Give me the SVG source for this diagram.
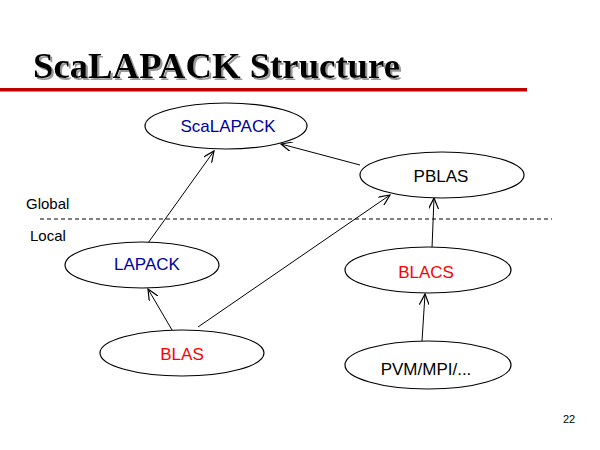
<svg xmlns="http://www.w3.org/2000/svg" width="600" height="450" viewBox="0 0 600 450">
<style>
.node ellipse{fill:#fff;stroke:#000;stroke-width:1.2}
.lbl{font-family:"Liberation Sans",Arial,sans-serif;font-size:17px;text-anchor:middle}
.side{font-family:"Liberation Sans",Arial,sans-serif;font-size:15px}
.edge{stroke:#000;stroke-width:1;fill:none;marker-end:url(#arr)}
.title{font-family:"Liberation Serif","Times New Roman",serif;font-size:36px;font-weight:bold}
</style>
<defs>
<marker id="arr" viewBox="0 0 12 10" refX="11" refY="5" markerWidth="12" markerHeight="10" markerUnits="userSpaceOnUse" orient="auto">
<path d="M0,0 L11,5 L0,10" fill="none" stroke="#000" stroke-width="1.2"/>
</marker>
<filter id="shadow" x="-5%" y="-20%" width="110%" height="140%">
<feOffset in="SourceAlpha" dx="2" dy="2" result="o"/>
<feFlood flood-color="#999"/>
<feComposite in2="o" operator="in" result="s"/>
<feMerge><feMergeNode in="s"/><feMergeNode in="SourceGraphic"/></feMerge>
</filter>
</defs>
<rect width="600" height="450" fill="#fff"/>
<g id="title">
<text class="title" x="33" y="78" fill="#000" filter="url(#shadow)" textLength="367" lengthAdjust="spacingAndGlyphs">ScaLAPACK Structure</text>
<rect x="0" y="88" width="527" height="3.5" fill="#c00000"/>
</g>
<g id="divider">
<text class="side" x="26" y="209">Global</text>
<line x1="40" y1="219" x2="552" y2="219" stroke="#000" stroke-width="1" stroke-dasharray="4,3"/>
<text class="side" x="30" y="241">Local</text>
</g>
<g id="connectors">
<line class="edge" x1="148" y1="243" x2="214" y2="151"/>
<line class="edge" x1="360" y1="165" x2="281" y2="144"/>
<line class="edge" x1="172" y1="330" x2="148" y2="289"/>
<line class="edge" x1="198" y1="327" x2="390" y2="195"/>
<line class="edge" x1="432" y1="248" x2="434" y2="198"/>
<line class="edge" x1="422" y1="341" x2="425" y2="294"/>
</g>
<g id="n-scalapack" class="node">
<ellipse cx="226" cy="126" rx="81" ry="23"/>
<text class="lbl" x="228" y="132" fill="#0000a0">ScaLAPACK</text>
</g>
<g id="n-pblas" class="node">
<ellipse cx="442" cy="175" rx="82" ry="23"/>
<text class="lbl" x="441" y="182" fill="#000">PBLAS</text>
</g>
<g id="n-lapack" class="node">
<ellipse cx="142" cy="265" rx="77" ry="23"/>
<text class="lbl" x="147" y="270" fill="#0000a0">LAPACK</text>
</g>
<g id="n-blacs" class="node">
<ellipse cx="428" cy="270" rx="83" ry="23"/>
<text class="lbl" x="426" y="278" fill="#ff0000">BLACS</text>
</g>
<g id="n-blas" class="node">
<ellipse cx="182" cy="353" rx="82" ry="23"/>
<text class="lbl" x="182" y="360" fill="#ff0000">BLAS</text>
</g>
<g id="n-pvm" class="node">
<ellipse cx="428" cy="365" rx="83" ry="24"/>
<text class="lbl" x="426" y="375" fill="#000">PVM/MPI/...</text>
</g>
<text x="563" y="423" font-family="Liberation Sans,Arial,sans-serif" font-size="11">22</text>
</svg>
